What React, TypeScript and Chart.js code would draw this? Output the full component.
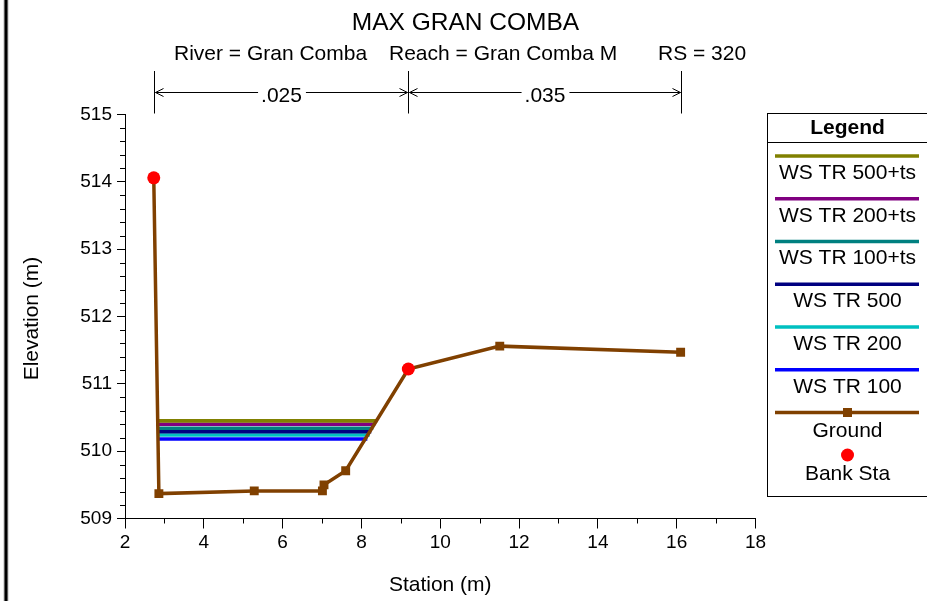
import React, { useEffect, useRef } from "react";
import Chart from "chart.js/auto";

const TITLE = "MAX GRAN COMBA";
const SUBTITLE_PARTS = ["River = Gran Comba", "Reach = Gran Comba M", "RS = 320"];
const X_LABEL = "Station (m)";
const Y_LABEL = "Elevation (m)";

const groundX = [2.73, 2.86, 5.28, 7.01, 7.05, 7.6, 9.19, 11.51, 16.1];
const groundY = [514.06, 509.37, 509.41, 509.41, 509.5, 509.71, 511.22, 511.56, 511.47];

const bankX = [2.73, 9.19];
const bankY = [514.06, 511.22];

const wsLabels = ["WS TR 500+ts", "WS TR 200+ts", "WS TR 100+ts", "WS TR 500", "WS TR 200", "WS TR 100"];
const wsElev = [510.45, 510.4, 510.34, 510.29, 510.24, 510.18];
const wsLeft = [2.83, 2.83, 2.83, 2.83, 2.83, 2.84];
const wsRight = [8.4, 8.35, 8.3, 8.25, 8.21, 8.15];
const wsColors = ["#808000", "#800080", "#008080", "#000080", "#00C0C0", "#0000FF"];

const nValues = [".025", ".035"];
const nStations = [2.73, 9.19, 16.1];

const GROUND_COLOR = "#804000";
const BANK_COLOR = "#FF0000";
const FONT = "'Liberation Sans', Arial, sans-serif";

export default function App() {
  const ref = useRef<HTMLCanvasElement | null>(null);

  useEffect(() => {
    if (!ref.current) return;
    Chart.defaults.font.family = FONT;

    const datasets: any[] = [];
    datasets.push({
      label: "Bank Sta",
      data: bankX.map((x, i) => ({ x, y: bankY[i] })),
      showLine: false,
      pointStyle: "circle",
      pointRadius: 6.5,
      pointBorderWidth: 0,
      backgroundColor: BANK_COLOR,
      borderColor: BANK_COLOR,
      order: 0,
    });
    datasets.push({
      label: "Ground",
      data: groundX.map((x, i) => ({ x, y: groundY[i] })),
      showLine: true,
      borderColor: GROUND_COLOR,
      backgroundColor: GROUND_COLOR,
      borderWidth: 3.5,
      pointStyle: "rect",
      pointRadius: 6.3,
      pointBorderWidth: 0,
      order: 1,
    });
    wsLabels.forEach((lab, i) => {
      datasets.push({
        label: lab,
        data: [
          { x: wsLeft[i], y: wsElev[i] },
          { x: wsRight[i], y: wsElev[i] },
        ],
        showLine: true,
        borderColor: wsColors[i],
        backgroundColor: wsColors[i],
        borderWidth: 3.6,
        pointRadius: 0,
        order: 2 + i,
      });
    });

    const overlay = {
      id: "overlay",
      afterDraw(chart: any) {
        const ctx = chart.ctx as CanvasRenderingContext2D;
        const xs = chart.scales.x;
        const ys = chart.scales.y;
        const area = chart.chartArea;
        ctx.save();

        // minor ticks
        ctx.strokeStyle = "#000";
        ctx.lineWidth = 1;
        ctx.beginPath();
        for (let v = 509; v <= 515.001; v += 0.2) {
          const r = Math.round(v * 5) / 5;
          if (Math.abs(r - Math.round(r)) < 1e-6) continue;
          const py = Math.round(ys.getPixelForValue(r)) + 0.5;
          ctx.moveTo(area.left - 5, py);
          ctx.lineTo(area.left, py);
        }
        for (let v = 3; v <= 17; v += 2) {
          const px = Math.round(xs.getPixelForValue(v)) + 0.5;
          ctx.moveTo(px, area.bottom);
          ctx.lineTo(px, area.bottom + 5);
        }
        ctx.stroke();

        // left window border
        ctx.fillStyle = "#bbb";
        ctx.fillRect(3.5, 0, 5, 601);
        ctx.fillStyle = "#000";
        ctx.fillRect(4.5, 0, 3, 601);

        // title
        ctx.fillStyle = "#000";
        ctx.textAlign = "center";
        ctx.textBaseline = "alphabetic";
        ctx.font = `24.5px ${FONT}`;
        ctx.fillText(TITLE, 465.5, 30);
        ctx.font = `21px ${FONT}`;
        ctx.textAlign = "left";
        const subX = [174, 389, 658];
        SUBTITLE_PARTS.forEach((s, i) => ctx.fillText(s, subX[i], 60));

        // manning's n arrows
        const ay = 92.5;
        const px = nStations.map((s) => Math.round(xs.getPixelForValue(s)) + 0.5);
        ctx.beginPath();
        px.forEach((p) => {
          ctx.moveTo(p, 71);
          ctx.lineTo(p, 113.5);
        });
        ctx.stroke();
        ctx.font = `21px ${FONT}`;
        ctx.textAlign = "center";
        nValues.forEach((n, i) => {
          const a = px[i];
          const b = px[i + 1];
          const mid = (a + b) / 2;
          const w = ctx.measureText(n).width;
          ctx.fillText(n, mid, 102);
          ctx.beginPath();
          ctx.moveTo(a + 1, ay);
          ctx.lineTo(mid - w / 2 - 3, ay);
          ctx.moveTo(mid + w / 2 + 4, ay);
          ctx.lineTo(b - 1, ay);
          // arrowheads
          ctx.moveTo(a + 9, ay - 4);
          ctx.lineTo(a + 1, ay);
          ctx.lineTo(a + 9, ay + 4);
          ctx.moveTo(b - 9, ay - 4);
          ctx.lineTo(b - 1, ay);
          ctx.lineTo(b - 9, ay + 4);
          ctx.stroke();
        });

        // axis titles
        ctx.textAlign = "center";
        ctx.textBaseline = "alphabetic";
        ctx.font = `21px ${FONT}`;
        ctx.fillText(X_LABEL, (area.left + area.right) / 2, 591);
        ctx.save();
        ctx.translate(38, (area.top + area.bottom) / 2 + 2);
        ctx.rotate(-Math.PI / 2);
        ctx.fillText(Y_LABEL, 0, 0);
        ctx.restore();

        // legend
        const lx = 767.5;
        const lw = 170;
        const cx = 847.5;
        ctx.strokeStyle = "#000";
        ctx.lineWidth = 1;
        ctx.strokeRect(lx, 113.5, lw, 383);
        ctx.beginPath();
        ctx.moveTo(lx, 142.5);
        ctx.lineTo(lx + lw, 142.5);
        ctx.stroke();
        ctx.textBaseline = "middle";
        ctx.font = `bold 21px ${FONT}`;
        ctx.fillText("Legend", cx, 128);
        ctx.font = `21px ${FONT}`;
        const step = 42.75;
        const items = chart.data.datasets.slice(2).map((d: any) => ({ label: d.label, color: d.borderColor }));
        items.forEach((it: any, i: number) => {
          const y = 156 + i * step;
          ctx.strokeStyle = it.color;
          ctx.lineWidth = 3.5;
          ctx.beginPath();
          ctx.moveTo(775, y);
          ctx.lineTo(919, y);
          ctx.stroke();
          ctx.fillStyle = "#000";
          ctx.fillText(it.label, cx, y + 17);
        });
        const gy = 156 + 6 * step;
        ctx.strokeStyle = GROUND_COLOR;
        ctx.lineWidth = 3.5;
        ctx.beginPath();
        ctx.moveTo(775, gy);
        ctx.lineTo(919, gy);
        ctx.stroke();
        ctx.fillStyle = GROUND_COLOR;
        ctx.fillRect(cx - 4.5, gy - 4.5, 9, 9);
        ctx.fillStyle = "#000";
        ctx.fillText("Ground", cx, gy + 19);
        const by = 455;
        ctx.fillStyle = BANK_COLOR;
        ctx.beginPath();
        ctx.arc(cx, by, 6.5, 0, Math.PI * 2);
        ctx.fill();
        ctx.fillStyle = "#000";
        ctx.fillText("Bank Sta", cx, by + 19);

        ctx.restore();
      },
    };

    const chart = new Chart(ref.current, {
      type: "scatter",
      data: { datasets },
      plugins: [overlay],
      options: {
        responsive: false,
        animation: false,
        devicePixelRatio: 1,
        layout: { padding: { left: 0, top: 114.5, right: 171.5, bottom: 0 } },
        plugins: { legend: { display: false }, tooltip: { enabled: false } },
        scales: {
          x: {
            type: "linear",
            min: 2,
            max: 18,
            afterFit: (s: any) => {
              s.height = 82.5;
            },
            ticks: { stepSize: 2, color: "#000", font: { size: 19, family: FONT }, padding: 3, maxRotation: 0 },
            grid: { display: true, drawOnChartArea: false, drawTicks: true, tickLength: 10, color: "#000", lineWidth: 1 },
            border: { display: true, color: "#000", width: 1 },
          },
          y: {
            type: "linear",
            min: 509,
            max: 515,
            afterFit: (s: any) => {
              s.width = 125;
            },
            ticks: { stepSize: 1, color: "#000", font: { size: 19, family: FONT }, padding: 5 },
            grid: { display: true, drawOnChartArea: false, drawTicks: true, tickLength: 8, color: "#000", lineWidth: 1 },
            border: { display: true, color: "#000", width: 1 },
          },
        },
      },
    });
    return () => chart.destroy();
  }, []);

  return (
    <div style={{ position: "absolute", left: 0, top: 0, width: 927, height: 601, background: "#fff" }}>
      <canvas ref={ref} width={927} height={601} style={{ display: "block" }} />
    </div>
  );
}
